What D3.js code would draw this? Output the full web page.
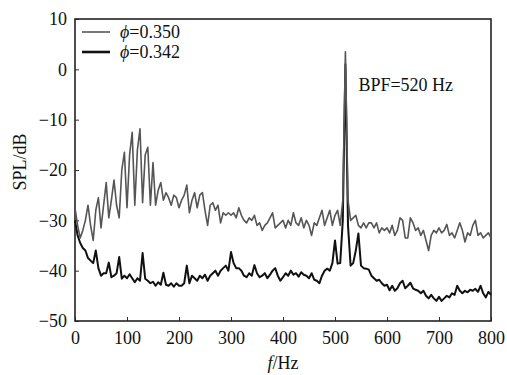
<!DOCTYPE html>
<html>
<head>
<meta charset="UTF-8">
<script src="https://d3js.org/d3.v7.min.js"></script>
<style>
  body { margin: 0; background: #fff; }
  svg text { font-family: "Times New Roman", Times, "Liberation Serif", serif; fill: #111; }
</style>
</head>
<body>
<svg width="507" height="375"></svg>
<script>
  // frequencies 0..800 Hz every 5 Hz
  const freqs = d3.range(0, 801, 5);

  // phi = 0.350 (grey)
  const spl350 = [
    -27.5, -31, -33.5, -32, -30, -27, -31, -34, -28, -25.5,
    -31.5, -27, -22.5, -29.5, -26, -22, -27, -29.5, -20, -16.5,
    -27.5, -17, -12.5, -27, -16, -11.8, -26.5, -17, -15.5, -27,
    -18.5, -27, -24, -22.5, -26, -24.5, -25.5, -27, -25, -25.5,
    -27.5, -26, -25, -23, -28.5, -26, -24.5, -27.5, -25, -24.5,
    -28, -31, -27, -26.5, -28, -27, -30.5, -28.5, -29, -28.5,
    -29, -28.5, -29.5, -27.5, -29, -30, -30.5, -29.5, -30, -29,
    -31, -30.5, -32, -31, -30.5, -29.5, -28.5, -31.5, -31, -30.5,
    -30, -31.5, -30, -31, -28.5, -30.5, -31, -29.5, -31.5, -30,
    -31, -33, -30.5, -31, -29.5, -28, -31, -29.5, -28, -31,
    -29, -28, -31, -26, 3.5, -26, -30, -29.5, -29, -31,
    -31.5, -30.5, -31.5, -30.5, -30.5, -31.5, -30.5, -32.5, -31.5, -32,
    -31.5, -32.5, -31, -33, -32, -29.5, -30, -33.5, -33.5, -29.5,
    -30.5, -32, -31.5, -33, -32, -34, -36, -33, -32, -32.5,
    -31.5, -32.5, -32, -30.8, -33, -32.5, -33.5, -32, -30.5, -32,
    -34.3, -32.5, -33, -31, -30, -33, -32.5, -33.5, -33, -32.5,
    -33.5
  ];

  // phi = 0.342 (black)
  const spl342 = [
    -30, -33, -34.5, -35.5, -36, -37.5, -38, -38.5, -36, -39.5,
    -41, -40.5, -40.5, -38.4, -41.3, -41, -40.5, -37.3, -41.6, -41,
    -41.5, -40.7, -41.5, -42.3, -41.5, -42, -36.5, -41.6, -42, -42.5,
    -42.2, -43, -42.3, -42.8, -40.4, -42.8, -43, -42.5, -43.2, -42.5,
    -43, -43, -42.5, -39, -42.5, -41, -41.5, -42, -41, -41.5,
    -40.8, -42, -41, -40.5, -40, -41, -40, -39.5, -39, -40,
    -36.3, -38.5, -39.5, -39.5, -40, -41, -41.3, -40.5, -41, -38.9,
    -40.5, -41.3, -41, -40.5, -41.5, -40.8, -40, -39.5, -41, -42,
    -41.3, -40.5, -41, -40, -40.8, -40.5, -41.2, -40.3, -40.8, -41,
    -41.5, -40.5, -41.8, -42, -42.5, -41, -40, -39.6, -40, -38.5,
    -34, -38.6, -38.5, -30, 1, -31, -39, -38.5, -36, -32.6,
    -39, -39.5, -39.6, -39.8, -41, -41.5, -42, -41.8, -42.5, -43,
    -42.8, -43.9, -43, -44, -43.5, -42.5, -42, -43.5, -43, -42.4,
    -43.5, -43.8, -44, -44.5, -44, -45, -45.5, -44.8, -45.5, -46,
    -45.2, -46, -45.5, -45, -45.3, -44.5, -44.8, -43, -44, -44.5,
    -44, -44.3, -43.8, -44, -43.6, -44.2, -43, -44.5, -45.3, -44.2,
    -44.8
  ];

  const xTicks = [0, 100, 200, 300, 400, 500, 600, 700, 800];
  const yTicks = [10, 0, -10, -20, -30, -40, -50];
  const seriesNames = ["0.350", "0.342"];

  const margin = {top: 19, right: 16, bottom: 54, left: 75},
        width = 507 - margin.left - margin.right,
        height = 375 - margin.top - margin.bottom;

  const svg = d3.select("svg")
    .append("g")
    .attr("transform", "translate(" + margin.left + "," + margin.top + ")");

  const x = d3.scaleLinear().domain([0, 800]).range([0, width]);
  const y = d3.scaleLinear().domain([-50, 10]).range([height, 0]);

  const fmt = d => d < 0 ? "\u2212" + Math.abs(d) : String(d);

  // axes with inward ticks
  const xAxis = svg.append("g")
    .attr("transform", "translate(0," + height + ")")
    .call(d3.axisBottom(x).tickValues(xTicks).tickSize(-4).tickPadding(10).tickFormat(d3.format("d")));
  const yAxis = svg.append("g")
    .call(d3.axisLeft(y).tickValues(yTicks).tickSize(-4).tickPadding(8).tickFormat(fmt));

  [xAxis, yAxis].forEach(a => {
    a.attr("font-family", null).attr("font-size", null);
    a.select(".domain").remove();
    a.selectAll("line").attr("stroke", "#333").attr("stroke-width", 1);
    a.selectAll("text")
      .style("font-size", "18px")
      .attr("fill", "#111");
  });

  // frame
  svg.append("rect")
    .attr("x", 0).attr("y", 0)
    .attr("width", width).attr("height", height)
    .attr("fill", "none")
    .attr("stroke", "#222")
    .attr("stroke-width", 1.6);

  const line = d3.line()
    .x((d, i) => x(freqs[i]))
    .y(d => y(d));

  svg.append("path")
    .datum(spl342)
    .attr("fill", "none")
    .attr("stroke", "#111")
    .attr("stroke-width", 2)
    .attr("stroke-linejoin", "round")
    .attr("d", line);

  svg.append("path")
    .datum(spl350)
    .attr("fill", "none")
    .attr("stroke", "#555")
    .attr("stroke-width", 1.6)
    .attr("stroke-linejoin", "round")
    .attr("d", line);

  // legend
  const legend = svg.selectAll(".legend")
    .data(seriesNames)
    .enter().append("g")
    .attr("class", "legend")
    .attr("transform", (d, i) => "translate(7," + (13 + i * 20) + ")");

  legend.append("line")
    .attr("x1", 0).attr("x2", 28)
    .attr("y1", 0).attr("y2", 0)
    .attr("stroke", (d, i) => i === 0 ? "#555" : "#111")
    .attr("stroke-width", (d, i) => i === 0 ? 1.6 : 2.6);

  const lt = legend.append("text")
    .attr("x", 38)
    .attr("y", 6)
    .style("font-size", "18px");
  lt.append("tspan").style("font-style", "italic").text("\u03d5");
  lt.append("tspan").text(d => "=" + d);

  // annotation
  svg.append("text")
    .attr("x", x(545))
    .attr("y", y(-4.3))
    .style("font-size", "18px")
    .text("BPF=520 Hz");

  // axis labels
  const xl = svg.append("text")
    .attr("x", width / 2)
    .attr("y", height + 48)
    .attr("text-anchor", "middle")
    .style("font-size", "18px");
  xl.append("tspan").style("font-style", "italic").text("f");
  xl.append("tspan").text("/Hz");

  svg.append("text")
    .attr("transform", "rotate(-90)")
    .attr("x", -height / 2 + 8)
    .attr("y", -margin.left + 26)
    .attr("text-anchor", "middle")
    .style("font-size", "18px")
    .text("SPL/dB");
</script>
</body>
</html>
